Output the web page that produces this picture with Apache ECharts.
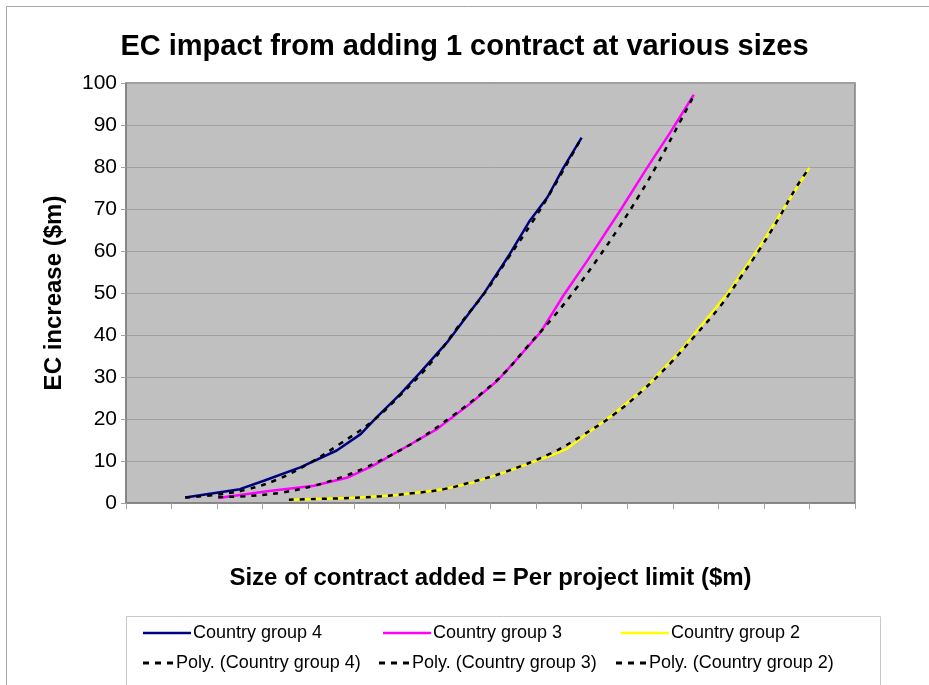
<!DOCTYPE html>
<html>
<head>
<meta charset="utf-8">
<script src="https://cdn.jsdelivr.net/npm/echarts@6/dist/echarts.min.js"></script>
<style>
html,body{margin:0;padding:0;background:#fff;}
#chart{width:929px;height:685px;}
</style>
</head>
<body>
<div id="chart"></div>
<script>
// ---- data (x = contract size position on hidden axis, y = EC increase $m) ----
var yTicks = [0,10,20,30,40,50,60,70,80,90,100];

var g4X = [5.2, 10.0, 12.1, 15.3, 18.5, 20.6, 22.0, 22.6, 24.1, 25.8, 28.2, 31.5, 33.7, 35.4, 37.0, 38.4, 40.0];
var g4Y = [1.3, 3.3, 5.3, 8.5, 12.5, 16.4, 20.4, 22.0, 26.0, 31.0, 38.3, 50.2, 59.3, 67.0, 72.8, 79.8, 87.0];

var g3X = [8.1, 12.4, 16.5, 19.4, 21.7, 24.6, 27.3, 30.2, 32.6, 34.6, 36.4, 38.4, 40.5, 43.4, 45.7, 47.8, 49.85];
var g3Y = [1.2, 2.8, 4.1, 6.0, 8.9, 13.4, 17.6, 23.6, 29.1, 35.1, 40.7, 49.4, 57.7, 69.7, 79.6, 88.3, 97.2];

var g2X = [14.3, 19.7, 23.8, 27.9, 30.5, 33.7, 37.5, 38.7, 42.8, 45.8, 48.7, 52.8, 55.7, 60.0];
var g2Y = [0.8, 1.2, 1.9, 3.3, 4.9, 7.7, 11.5, 12.9, 21.2, 28.0, 36.3, 49.8, 61.3, 79.8];

var p4X = [5.2, 8.0, 10.6, 13.2, 16.0, 18.8, 21.6, 24.2, 26.9, 29.3, 31.7, 33.6, 35.65, 37.5, 40.0];
var p4Y = [1.3, 2.0, 3.2, 5.5, 9.3, 14.1, 19.4, 26.0, 33.8, 42.5, 50.8, 58.5, 66.8, 75.0, 87.0];

var p3X = [8.1, 10.9, 13.7, 16.5, 19.1, 21.0, 23.2, 25.8, 28.6, 31.4, 33.3, 35.06, 37.4, 39.5, 41.5, 43.3, 45.0, 46.6, 48.1, 49.85];
var p3Y = [1.4, 1.7, 2.5, 4.1, 6.3, 8.4, 11.3, 15.3, 20.6, 26.5, 31.2, 36.7, 43.9, 51.0, 58.5, 65.7, 73.0, 80.4, 88.0, 97.0];

var p2X = [14.3, 19.7, 22.4, 25.1, 27.9, 30.5, 33.2, 37.3, 40.0, 42.8, 45.4, 47.8, 50.1, 52.1, 53.9, 55.7, 57.3, 58.9, 60.0];
var p2Y = [0.8, 1.2, 1.6, 2.3, 3.3, 5.1, 7.3, 11.8, 16.0, 21.0, 26.9, 33.3, 40.3, 46.6, 53.5, 60.7, 67.8, 75.4, 79.8];

var seriesNames = ['Country group 4','Country group 3','Country group 2',
  'Poly. (Country group 4)','Poly. (Country group 3)','Poly. (Country group 2)'];

function pairs(xs, ys){ return xs.map(function(x,i){ return [x, ys[i]]; }); }

var FONT = "'Liberation Sans', Arial, sans-serif";
var SOLID_ICON = 'rect';
var DASH_ICON = 'path://M0,0h6v3h-6z M12,0h6v3h-6z M24,0h6v3h-6z';

var chart = echarts.init(document.getElementById('chart'), null, {renderer:'canvas'});

function solid(name, xs, ys, color){
  return {name:name, type:'line', data:pairs(xs,ys), symbol:'none', smooth:false,
    lineStyle:{color:color, width:2.5}, itemStyle:{color:color}, z:2, animation:false};
}
function poly(name, xs, ys){
  return {name:name, type:'line', data:pairs(xs,ys), symbol:'none', smooth:0.4,
    lineStyle:{color:'#000', width:2.5, type:[5,6]}, itemStyle:{color:'#000'}, z:3, animation:false};
}
function leg(name, left, top, w, icon, h){
  return {data:[{name:name, icon:icon, itemStyle:{color: name.indexOf('Poly') === 0 ? '#000' : undefined}}],
    left:left, top:top, orient:'horizontal', padding:0,
    itemWidth:w, itemHeight:h, selectedMode:false,
    textStyle:{fontFamily:FONT, fontSize:18, color:'#000', padding:[0,0,0,-3]}};
}

chart.setOption({
  animation:false,
  backgroundColor:'#ffffff',
  title:{text:'EC impact from adding 1 contract at various sizes', left:'center', top:27,
    textStyle:{fontFamily:FONT, fontWeight:'bold', fontSize:29, color:'#000'}},
  grid:{left:126, right:74, top:83, bottom:182, show:true, backgroundColor:'#c0c0c0',
    borderColor:'#808080', borderWidth:1.5},
  xAxis:{type:'value', min:0, max:64, interval:4,
    name:'Size of contract added = Per project limit ($m)', nameLocation:'middle', nameGap:63,
    nameTextStyle:{fontFamily:FONT, fontWeight:'bold', fontSize:24, color:'#000'},
    axisLine:{show:true, lineStyle:{color:'#808080', width:1.5}},
    axisTick:{show:true, length:6, lineStyle:{color:'#a0a0a0'}},
    axisLabel:{show:false}, splitLine:{show:false}},
  yAxis:{type:'value', min:0, max:100, interval:10,
    name:'EC increase ($m)', nameLocation:'middle', nameGap:60, nameRotate:90,
    nameTextStyle:{fontFamily:FONT, fontWeight:'bold', fontSize:24, color:'#000'},
    axisLine:{show:true, lineStyle:{color:'#808080', width:1.5}},
    axisTick:{show:true, length:5, lineStyle:{color:'#a0a0a0'}},
    axisLabel:{fontFamily:FONT, fontSize:21, color:'#000', margin:9,
      formatter:function(v){ return yTicks.indexOf(v) >= 0 ? String(v) : ''; }},
    splitLine:{show:true, lineStyle:{color:'#a0a0a0', width:1}}},
  legend:[
    leg(seriesNames[0], 143, 624, 48, SOLID_ICON, 2.5),
    leg(seriesNames[1], 383, 624, 48, SOLID_ICON, 2.5),
    leg(seriesNames[2], 621, 624, 48, SOLID_ICON, 2.5),
    leg(seriesNames[3], 143, 654, 32, DASH_ICON, 3),
    leg(seriesNames[4], 379, 654, 32, DASH_ICON, 3),
    leg(seriesNames[5], 616, 654, 32, DASH_ICON, 3)
  ],
  graphic:[
    {type:'rect', left:4, top:4, shape:{width:1000, height:1000}, silent:true,
      style:{fill:'none', stroke:'#a6a6a6', lineWidth:1}},
    {type:'rect', left:124, top:614, shape:{width:754, height:200}, silent:true,
      style:{fill:'none', stroke:'#c8c8c8', lineWidth:1}}
  ],
  series:[
    solid(seriesNames[0], g4X, g4Y, '#000080'),
    solid(seriesNames[1], g3X, g3Y, '#ff00ff'),
    solid(seriesNames[2], g2X, g2Y, '#ffff00'),
    poly(seriesNames[3], p4X, p4Y),
    poly(seriesNames[4], p3X, p3Y),
    poly(seriesNames[5], p2X, p2Y)
  ]
});
</script>
</body>
</html>
